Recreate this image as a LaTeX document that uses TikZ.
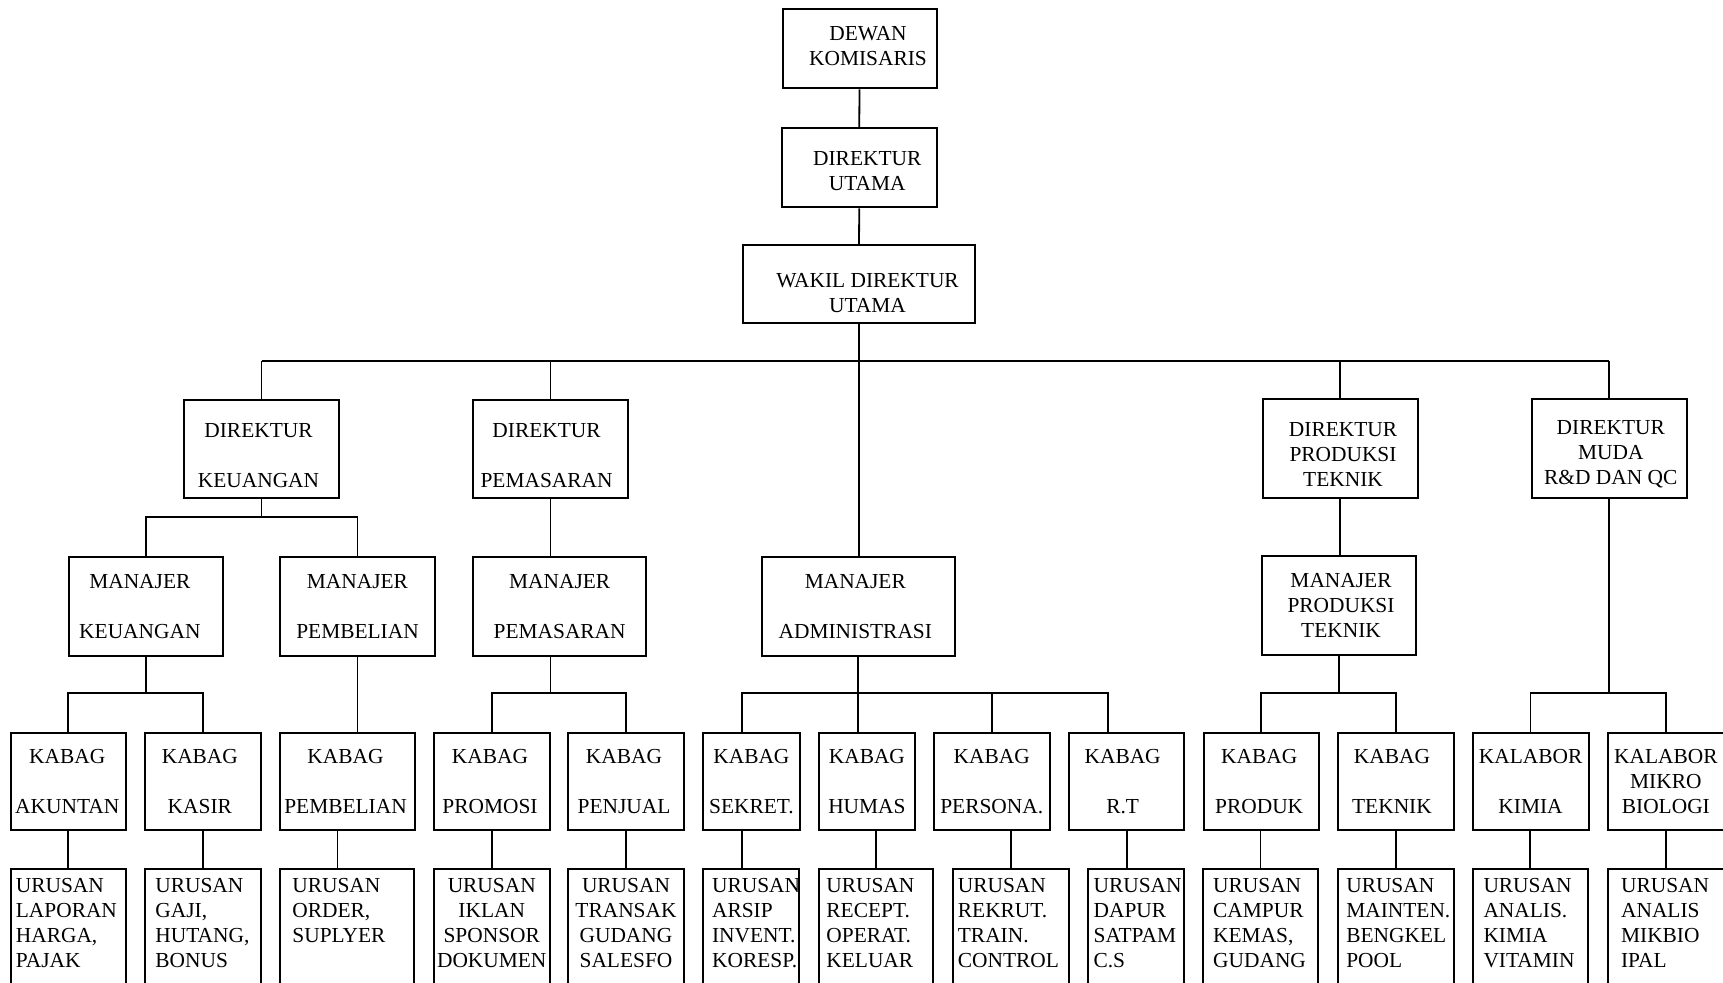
\documentclass[tikz,border=0pt]{standalone}
\usepackage{fontspec}
\setmainfont{Liberation Serif}
\usetikzlibrary{fit}
\tikzset{
  box/.style={draw, line width=1pt, inner sep=0pt},
  conn/.style={line width=0.9pt},
  lbl/.style={inner sep=0pt, align=center, font=\fontsize{10.7}{12.5}\selectfont},
  ulbl/.style={inner sep=0pt, align=left, anchor=north west, font=\fontsize{10.7}{12.5}\selectfont},
  ulblc/.style={inner sep=0pt, align=center, anchor=north, font=\fontsize{10.7}{12.5}\selectfont},
}
% name, x1, y1, x2, y2, dx, dy, text
\newcommand{\orgbox}[8]{%
  \node[box, fit={(#2,#3) (#4,#5)}] (#1) {};
  \node[lbl] (#1-t) at ([shift={(#6,#7)}]#1.center) {#8};}
% name, x1, x2, inset, text
\newcommand{\urbox}[5]{%
  \node[box, fit={(#2,868.5) (#3,1000)}] (#1) {};
  \node[ulbl] (#1-t) at ([shift={(#4,10.6)}]#1.north west) {#5};}
\newcommand{\urboxc}[4]{%
  \node[box, fit={(#2,868.5) (#3,1000)}] (#1) {};
  \node[ulblc] (#1-t) at ([shift={(0,10.6)}]#1.north) {#4};}
\begin{document}
\begin{tikzpicture}[x=0.5pt, y=-0.5pt]
\useasboundingbox (0,0) rectangle (1723,983);
\fill[white] (0,0) rectangle (1723,983);
\clip (0,0) rectangle (1723,983);

% top
\orgbox{dewan}{782.5}{9}{936.5}{88.5}{8.5}{-2.5}{DEWAN\\KOMISARIS}
\orgbox{dirut}{782}{128}{936.5}{207.5}{8}{3}{DIREKTUR\\UTAMA}
\orgbox{wakil}{743}{245.5}{975}{323.5}{8.5}{8.5}{WAKIL DIREKTUR\\UTAMA}

% directors
\orgbox{dk}{184}{400}{339}{498}{-3}{7}{DIREKTUR\\[12.5pt]KEUANGAN}
\orgbox{dp}{473.3}{400}{627.8}{498}{-4}{7}{DIREKTUR\\[12.5pt]PEMASARAN}
\orgbox{dpt}{1262.5}{399}{1417.5}{498}{3}{5.5}{DIREKTUR\\PRODUKSI\\TEKNIK}
\orgbox{dm}{1532}{399}{1686.5}{498}{1.5}{5.5}{DIREKTUR\\MUDA\\R\&D DAN QC}

% managers
\orgbox{mk}{69}{557}{222.7}{656}{-6}{0}{MANAJER\\[12.5pt]KEUANGAN}
\orgbox{mpb}{280}{557}{435}{656}{0}{0}{MANAJER\\[12.5pt]PEMBELIAN}
\orgbox{mpm}{473.3}{557}{646}{656}{0}{0}{MANAJER\\[12.5pt]PEMASARAN}
\orgbox{madm}{762}{557}{954.6}{655.5}{-3}{0}{MANAJER\\[12.5pt]ADMINISTRASI}
\orgbox{mpt}{1262}{556}{1416}{654.7}{2}{0}{MANAJER\\PRODUKSI\\TEKNIK}

% kabag
\orgbox{k1}{10.5}{733}{126}{830}{-1}{0}{KABAG\\[12.5pt]AKUNTAN}
\orgbox{k2}{145}{733}{260.7}{830}{-3}{0}{KABAG\\[12.5pt]KASIR}
\orgbox{k3}{280}{733}{415}{830}{-2}{0}{KABAG\\[12.5pt]PEMBELIAN}
\orgbox{k4}{434}{733}{550}{830}{-2}{0}{KABAG\\[12.5pt]PROMOSI}
\orgbox{k5}{568}{733}{684}{830}{-2}{0}{KABAG\\[12.5pt]PENJUAL}
\orgbox{k6}{703.2}{733}{799.6}{830}{0}{0}{KABAG\\[12.5pt]SEKRET.}
\orgbox{k7}{819}{733}{914.8}{830}{0}{0}{KABAG\\[12.5pt]HUMAS}
\orgbox{k8}{934}{733}{1049.5}{830}{0}{0}{KABAG\\[12.5pt]PERSONA.}
\orgbox{k9}{1069}{733}{1184.3}{830}{-4}{0}{KABAG\\[12.5pt]R.T}
\orgbox{k10}{1203.5}{733}{1318.9}{830}{-2}{0}{KABAG\\[12.5pt]PRODUK}
\orgbox{k11}{1337.9}{733}{1454}{830}{-4}{0}{KABAG\\[12.5pt]TEKNIK}
\orgbox{k12}{1472.6}{733}{1588.5}{830}{0}{0}{KALABOR\\[12.5pt]KIMIA}
\orgbox{k13}{1607.7}{733}{1724}{830}{0}{0}{KALABOR\\MIKRO\\BIOLOGI}

% urusan
\urbox{u1}{10.5}{125.8}{6}{URUSAN\\LAPORAN\\HARGA,\\PAJAK}
\urbox{u2}{145}{260.5}{11}{URUSAN\\GAJI,\\HUTANG,\\BONUS}
\urbox{u3}{280}{414.4}{13}{URUSAN\\ORDER,\\SUPLYER}
\urboxc{u4}{434}{549.5}{URUSAN\\IKLAN\\SPONSOR\\DOKUMEN}
\urboxc{u5}{568}{684}{URUSAN\\TRANSAK\\GUDANG\\SALESFO}
\urbox{u6}{703.2}{798.9}{9.5}{URUSAN\\ARSIP\\INVENT.\\KORESP.}
\urbox{u7}{819}{933.2}{8}{URUSAN\\RECEPT.\\OPERAT.\\KELUAR}
\urbox{u8}{953}{1068.7}{5.5}{URUSAN\\REKRUT.\\TRAIN.\\CONTROL}
\urbox{u9}{1087.7}{1184}{6.5}{URUSAN\\DAPUR\\SATPAM\\C.S}
\urbox{u10}{1202.8}{1318}{11}{URUSAN\\CAMPUR\\KEMAS,\\GUDANG}
\urbox{u11}{1337.9}{1454}{9}{URUSAN\\MAINTEN.\\BENGKEL\\POOL}
\urbox{u12}{1472.6}{1588}{11.5}{URUSAN\\ANALIS.\\KIMIA\\VITAMIN}
\urbox{u13}{1607.7}{1724}{14}{URUSAN\\ANALIS\\MIKBIO\\IPAL}

% helper coordinates
\coordinate (busy) at (0,361);
\coordinate (kby) at (0,517.3);
\coordinate (lby) at (0,693.3);
\coordinate (s3) at (337.4,0);
\coordinate (a6) at (741.8,693.3);
\coordinate (a9) at (1107.7,693.3);

% connectors top
\draw[conn] (dewan.south) -- (dirut.north);
\draw[conn] (dirut.south) -- (wakil.north);
\draw[conn] (wakil.south) -- (wakil.south |- madm.north);
\draw[conn] (dk.north |- busy) -- (dm.north |- busy);
\foreach \n in {dk,dp,dpt,dm} \draw[conn] (\n.north) -- (\n.north |- busy);

% keuangan
\draw[conn] (dk.south) -- (dk.south |- kby);
\draw[conn] (mk.north) -- (mk.north |- kby) -- (mpb.north |- kby) -- (mpb.north);
\draw[conn] (mk.south) -- (mk.south |- lby);
\draw[conn] (k1.north) -- (k1.north |- lby) -- (k2.north |- lby) -- (k2.north);
\draw[conn] (mpb.south) -- (mpb.south |- k3.north);

% pemasaran
\draw[conn] (dp.south) -- (dp.south |- mpm.north);
\draw[conn] (dp.south |- mpm.south) -- (dp.south |- lby);
\draw[conn] (k4.north) -- (k4.north |- lby) -- (k5.north |- lby) -- (k5.north);

% administrasi
\draw[conn] (madm.south) -- (madm.south |- k7.north);
\draw[conn] (a6 |- k6.north) -- (a6) -- (a9) -- (a9 |- k9.north);
\draw[conn] (k8.north) -- (k8.north |- lby);

% produksi
\draw[conn] (dpt.south) -- (dpt.south |- mpt.north);
\draw[conn] (mpt.south) -- (mpt.south |- lby);
\draw[conn] (k10.north) -- (k10.north |- lby) -- (k11.north |- lby) -- (k11.north);

% r&d
\draw[conn] (dm.south) -- (dm.south |- lby);
\draw[conn] (k12.north) -- (k12.north |- lby) -- (k13.north |- lby) -- (k13.north);

% kabag to urusan
\foreach \n in {1,2,4,5,8,10,11,12,13} \draw[conn] (u\n.north) -- (u\n.north |- k\n.south);
\draw[conn] (k3.south -| s3) -- (u3.north -| s3);
\draw[conn] (k6.south -| a6) -- (u6.north -| a6);
\draw[conn] (u7.north) -- (u7.north |- k7.south);
\draw[conn] (k9.south) -- (k9.south |- u9.north);
\end{tikzpicture}
\end{document}
